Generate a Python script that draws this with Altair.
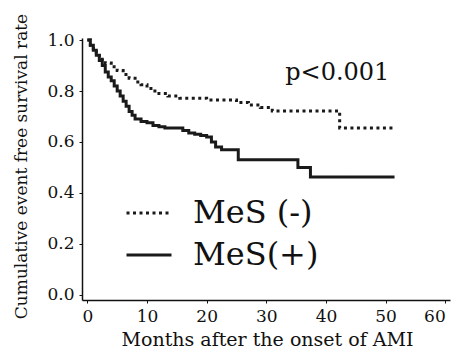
import altair as alt
import pandas as pd

# MeS (-) : dotted curve (step function)
neg_t = [0, 0.5, 1, 1.5, 2, 3, 4, 5, 6, 7, 8, 9, 10, 11, 12, 13.5, 15.5, 20, 25, 27, 29, 31, 42.3, 51.5]
neg_s = [1.0, 0.98, 0.965, 0.95, 0.925, 0.91, 0.895, 0.88, 0.865, 0.85, 0.835, 0.825, 0.81, 0.80, 0.79, 0.78, 0.772, 0.765, 0.755, 0.745, 0.735, 0.722, 0.655, 0.655]

# MeS(+) : solid curve (step function)
pos_t = [0, 0.5, 1, 1.5, 2, 2.5, 3, 3.5, 4, 4.5, 5, 5.5, 6, 6.5, 7, 7.5, 8, 9, 10, 11, 12, 13, 15, 16, 17, 18, 19, 20, 20.8, 21.5, 22.5, 25.3, 35.3, 37.4, 51.5]
pos_s = [1.0, 0.98, 0.96, 0.94, 0.92, 0.90, 0.875, 0.855, 0.84, 0.82, 0.80, 0.78, 0.76, 0.74, 0.72, 0.705, 0.69, 0.68, 0.675, 0.665, 0.66, 0.655, 0.655, 0.645, 0.635, 0.63, 0.625, 0.62, 0.60, 0.58, 0.57, 0.53, 0.50, 0.463, 0.463]

groups = ["MeS (-)", "MeS(+)"]
x_ticks = [0, 10, 20, 30, 40, 50, 60]
y_ticks = [0.0, 0.2, 0.4, 0.6, 0.8, 1.0]

p_label = ["p<0.001"]
p_pos_x = [41.9]
p_pos_y = [0.843]

df = pd.DataFrame(
    {"t": neg_t + pos_t,
     "s": neg_s + pos_s,
     "group": [groups[0]] * len(neg_t) + [groups[1]] * len(pos_t)}
)
df_p = pd.DataFrame({"t": p_pos_x, "s": p_pos_y, "label": p_label})

FONT = "DejaVu Serif"

x_scale = alt.Scale(domain=[-0.9, 60.8], nice=False, zero=False)
y_scale = alt.Scale(domain=[-0.02, 1.008], nice=False, zero=False)

lines = alt.Chart(df).mark_line(interpolate="step-after", color="#1a1a1a", strokeWidth=3).encode(
    x=alt.X("t:Q", scale=x_scale,
            axis=alt.Axis(values=x_ticks, title="Months after the onset of AMI", format="d",
                          labelFlush=5,
                          titleX=185, titleY=45, titleBaseline="alphabetic",
                          titleAlign="center", titleFontSize=19)),
    y=alt.Y("s:Q", scale=y_scale,
            axis=alt.Axis(values=y_ticks, format=".1f",
                          title="Cumulative event free survival rate",
                          titleX=-61, titleY=128, titleAngle=270,
                          titleBaseline="middle", titleAlign="center", titleFontSize=17)),
    strokeDash=alt.StrokeDash(
        "group:N",
        scale=alt.Scale(domain=groups, range=[[3, 3.5], [1, 0]]),
        legend=alt.Legend(title=None, orient="none", legendX=43, legendY=151,
                          symbolType="stroke", symbolSize=2025, symbolStrokeWidth=3,
                          symbolStrokeColor="#1a1a1a", labelFontSize=32, labelFont=FONT,
                          labelColor="#111", labelOffset=20, rowPadding=2, padding=0),
    ),
    detail="group:N",
)

ptext = alt.Chart(df_p).mark_text(font=FONT, fontSize=24, color="#111", align="center",
                                  baseline="alphabetic").encode(
    x=alt.X("t:Q", scale=x_scale), y=alt.Y("s:Q", scale=y_scale), text="label:N")

chart = alt.layer(lines, ptext).properties(
    width=368, height=262,
    autosize=alt.AutoSizeParams(type="none"),
    padding={"left": 74, "top": 30, "right": 2, "bottom": 50},
).configure_view(stroke=None).configure_axis(
    grid=False, domainColor="#111", domainWidth=1.5, tickColor="#111", tickSize=3,
    labelFont=FONT, labelFontSize=17, labelColor="#111", labelPadding=5,
    titleFont=FONT, titleColor="#111", titleFontWeight="normal",
)

chart.save("out.html", embed_options={"renderer": "svg", "actions": False})
